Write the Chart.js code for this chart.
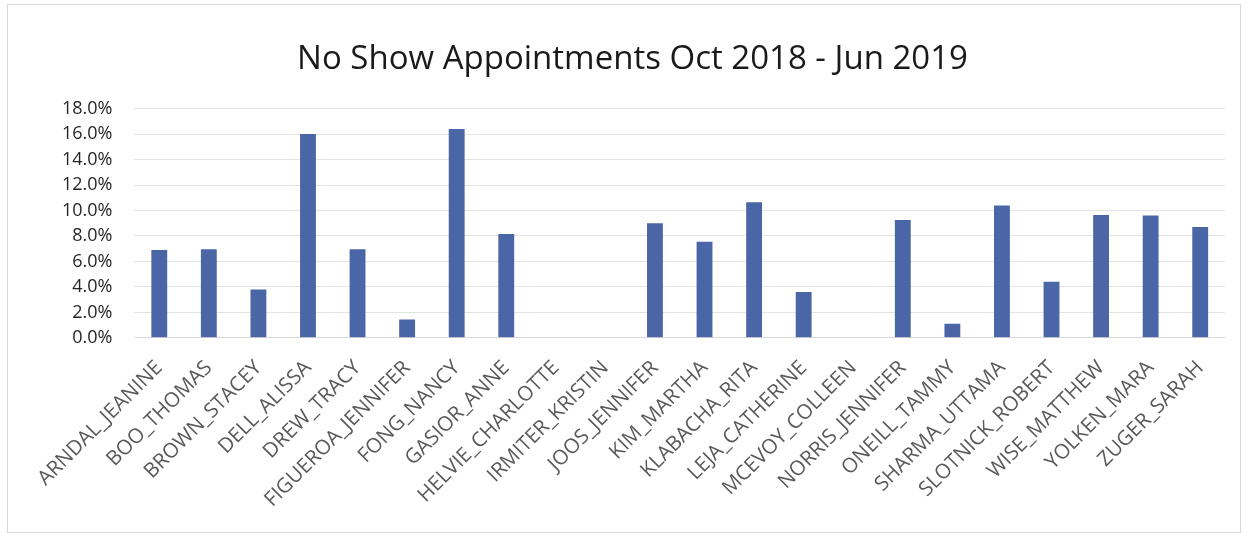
<!DOCTYPE html>
<html>
<head>
<meta charset="utf-8">
<script src="https://cdn.jsdelivr.net/npm/chart.js@4/dist/chart.umd.min.js"></script>
<style>
  html, body { margin: 0; padding: 0; background: #fff; }
  #wrap { position: relative; width: 1251px; height: 536px; }
  #frame { position: absolute; left: 7px; top: 4px; width: 1234px; height: 529px; border: 1px solid #d9d9d9; box-sizing: border-box; pointer-events: none; }
</style>
</head>
<body>
<div id="wrap">
  <canvas id="myChart" width="1251" height="536"></canvas>
  <div id="frame"></div>
</div>
<script>
// provider names and no-show rates (percent)
const providers = [
  'ARNDAL_JEANINE', 'BOO_THOMAS', 'BROWN_STACEY', 'DELL_ALISSA', 'DREW_TRACY',
  'FIGUEROA_JENNIFER', 'FONG_NANCY', 'GASIOR_ANNE', 'HELVIE_CHARLOTTE', 'IRMITER_KRISTIN',
  'JOOS_JENNIFER', 'KIM_MARTHA', 'KLABACHA_RITA', 'LEJA_CATHERINE', 'MCEVOY_COLLEEN',
  'NORRIS_JENNIFER', 'ONEILL_TAMMY', 'SHARMA_UTTAMA', 'SLOTNICK_ROBERT', 'WISE_MATTHEW',
  'YOLKEN_MARA', 'ZUGER_SARAH'
];
const noShowRates = [
  6.9, 6.95, 3.8, 16.0, 6.95,
  1.45, 16.4, 8.15, 0, 0,
  9.0, 7.55, 10.65, 3.6, 0,
  9.25, 1.1, 10.4, 4.4, 9.65,
  9.6, 8.7
];
const yTicks = [0, 2, 4, 6, 8, 10, 12, 14, 16, 18];

const chartTitle = 'No Show Appointments Oct 2018 - Jun 2019';

new Chart(document.getElementById('myChart'), {
  type: 'bar',
  data: {
    labels: providers,
    datasets: [{
      label: 'No Show %',
      data: noShowRates,
      backgroundColor: '#4a66a6',
      borderWidth: 0,
      barPercentage: 0.32,
      categoryPercentage: 1.0
    }]
  },
  options: {
    responsive: false,
    animation: false,
    layout: { padding: { left: 40, right: 26, top: 40, bottom: 6 } },
    plugins: {
      legend: { display: false },
      tooltip: { enabled: false },
      title: {
        display: true,
        text: chartTitle,
        color: '#1a1a1a',
        font: { family: 'Open Sans', size: 33, weight: 'normal' },
        padding: { top: 0, bottom: 29 }
      }
    },
    scales: {
      x: {
        grid: { display: false, drawTicks: false },
        border: { color: '#d9d9d9' },
        ticks: {
          color: '#595959',
          font: { family: 'Open Sans', size: 20.5 },
          maxRotation: 45,
          minRotation: 45,
          autoSkip: false,
          padding: 18
        }
      },
      y: {
        min: 0,
        max: 18,
        afterBuildTicks: (axis) => { axis.ticks = yTicks.map(v => ({ value: v })); },
        grid: { color: '#e3e3e3', drawTicks: false },
        border: { display: false },
        ticks: {
          color: '#262626',
          font: { family: 'Open Sans', size: 18 },
          padding: 22,
          autoSkip: false,
          callback: (v) => v.toFixed(1) + '%'
        }
      }
    }
  }
});
</script>
</body>
</html>
